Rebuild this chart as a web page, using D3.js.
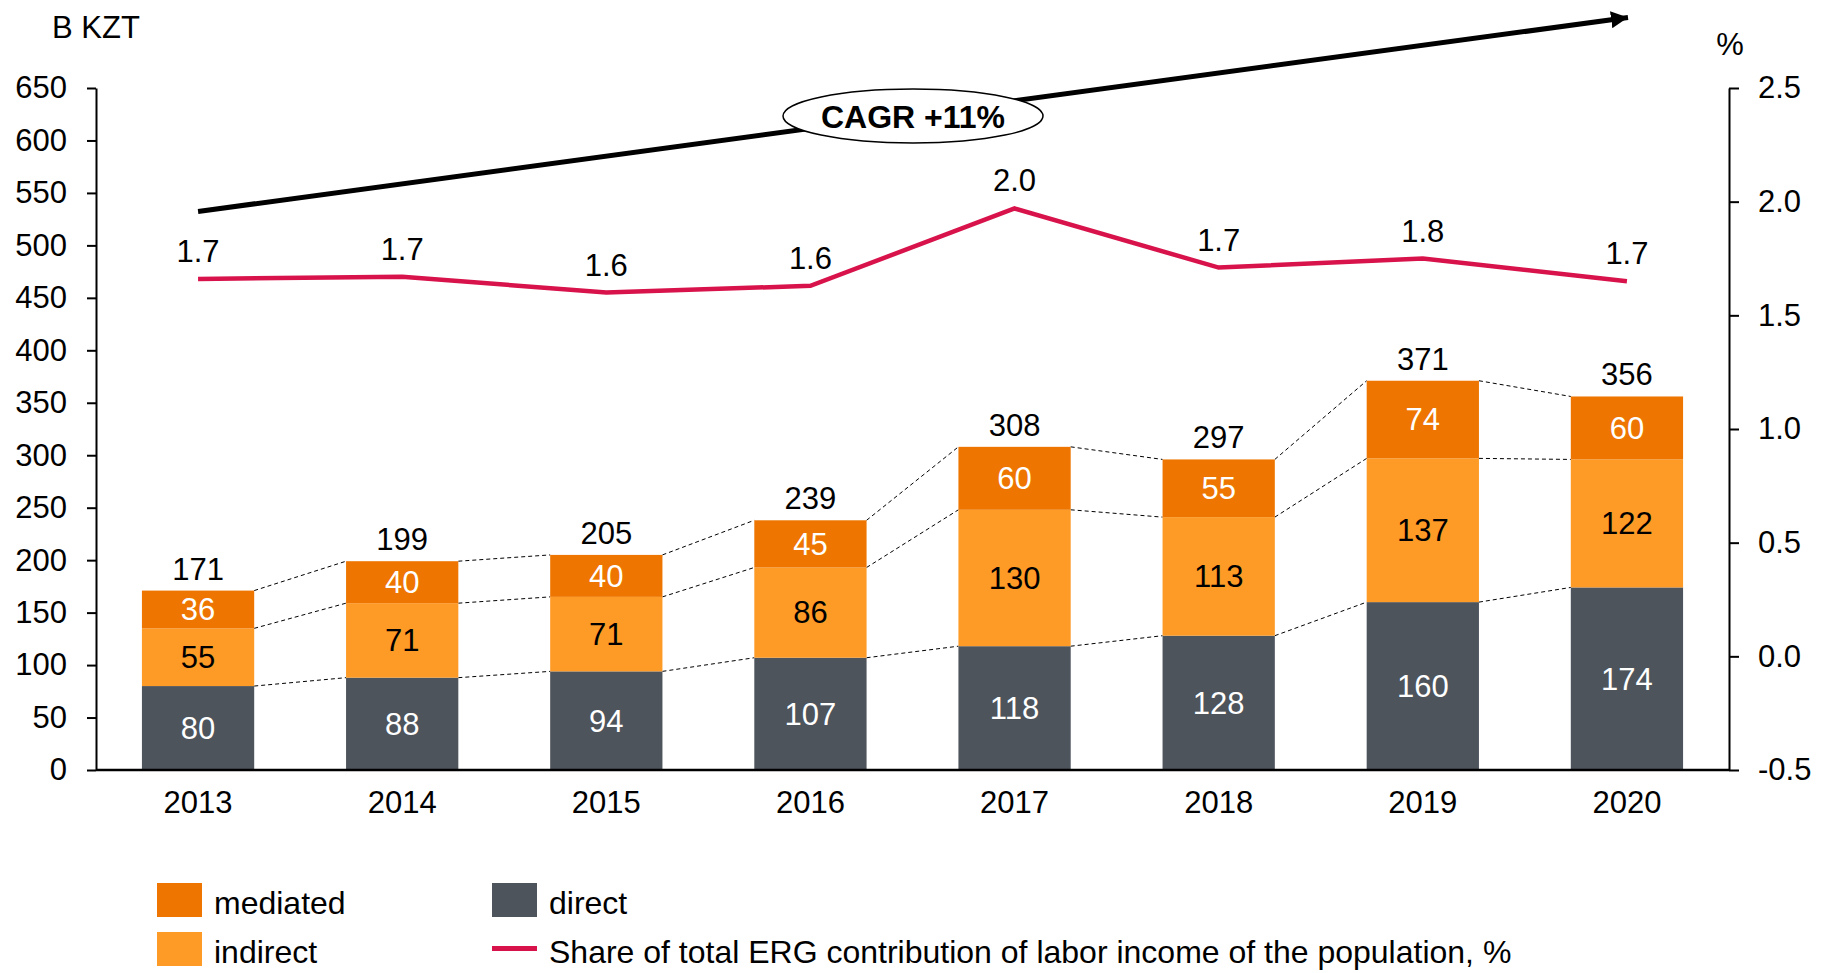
<!DOCTYPE html>
<html lang="en">
<head>
<meta charset="UTF-8">
<title>ERG contribution to labor income</title>
<script src="https://d3js.org/d3.v7.min.js"></script>
<style>
  body { margin: 0; background: #fff; }
  svg text { font-family: Arial, "Liberation Sans", sans-serif; }
</style>
</head>
<body>
<svg width="1832" height="973"></svg>
<script>
// data
const years = ["2013", "2014", "2015", "2016", "2017", "2018", "2019", "2020"];
const direct = [80, 88, 94, 107, 118, 128, 160, 174];
const indirect = [55, 71, 71, 86, 130, 113, 137, 122];
const mediated = [36, 40, 40, 45, 60, 55, 74, 60];
const totals = [171, 199, 205, 239, 308, 297, 371, 356];
const share = [1.66, 1.67, 1.60, 1.63, 1.97, 1.71, 1.75, 1.65];
const shareLabels = ["1.7", "1.7", "1.6", "1.6", "2.0", "1.7", "1.8", "1.7"];
const leftTicks = [0, 50, 100, 150, 200, 250, 300, 350, 400, 450, 500, 550, 600, 650];
const rightTicks = [-0.5, 0, 0.5, 1.0, 1.5, 2.0, 2.5];

const colors = { direct: "#4d545c", indirect: "#fe9a26", mediated: "#ee7600", share: "#d8124a" };
const FS = 31;

const svg = d3.select("svg");
const plot = { left: 96, right: 1729, top: 88, bottom: 770 };

const x = d3.scaleBand().domain(years).range([plot.left, plot.right]).paddingInner(0.45).paddingOuter(0.225);
const y = d3.scaleLinear().domain([0, 650]).range([plot.bottom, plot.top]);
const y2 = d3.scaleLinear().domain([-0.5, 2.5]).range([plot.bottom, plot.top]);

// stacked data
const rows = years.map((yr, i) => ({ year: yr, direct: direct[i], indirect: indirect[i], mediated: mediated[i] }));
const keys = ["direct", "indirect", "mediated"];
const stacked = d3.stack().keys(keys)(rows);

// dashed connectors between bars
keys.forEach((k, ki) => {
  const layer = stacked[ki];
  for (let i = 0; i < years.length - 1; i++) {
    svg.append("line")
      .attr("x1", x(years[i]) + x.bandwidth())
      .attr("y1", y(layer[i][1]))
      .attr("x2", x(years[i + 1]))
      .attr("y2", y(layer[i + 1][1]))
      .attr("stroke", "#000")
      .attr("stroke-width", 1)
      .attr("stroke-dasharray", "4,3");
  }
});

// bars
stacked.forEach((layer, ki) => {
  const k = keys[ki];
  svg.append("g").selectAll("rect")
    .data(layer)
    .enter()
    .append("rect")
    .attr("x", d => x(d.data.year))
    .attr("y", d => y(d[1]))
    .attr("width", x.bandwidth())
    .attr("height", d => y(d[0]) - y(d[1]))
    .attr("fill", colors[k]);

  svg.append("g").selectAll("text")
    .data(layer)
    .enter()
    .append("text")
    .attr("x", d => x(d.data.year) + x.bandwidth() / 2)
    .attr("y", d => (y(d[0]) + y(d[1])) / 2)
    .attr("dy", "0.35em")
    .attr("text-anchor", "middle")
    .style("font-size", FS + "px")
    .style("fill", k === "indirect" ? "#000" : "#fff")
    .text(d => d.data[k]);
});

// totals above bars
svg.append("g").selectAll("text")
  .data(stacked[2])
  .enter()
  .append("text")
  .attr("x", d => x(d.data.year) + x.bandwidth() / 2)
  .attr("y", d => y(d[1]) - 11)
  .attr("text-anchor", "middle")
  .style("font-size", FS + "px")
  .text((d, i) => totals[i]);

// left axis
const gl = svg.append("g")
  .attr("transform", `translate(${plot.left},0)`)
  .call(d3.axisLeft(y).tickValues(leftTicks).tickSize(9).tickSizeOuter(0).tickPadding(20));
gl.selectAll("text").style("font-size", FS + "px").style("fill", "#000");
gl.selectAll("path, line").style("stroke", "#000").style("stroke-width", 2);

// right axis (plain hyphen for negatives)
const fmt1 = v => d3.format(".1f")(v).replace("\u2212", "-");
const gr = svg.append("g")
  .attr("transform", `translate(${plot.right},0)`)
  .call(d3.axisRight(y2).tickValues(rightTicks).tickFormat(fmt1).tickSize(10).tickSizeOuter(0).tickPadding(19));
gr.selectAll("text").style("font-size", FS + "px").style("fill", "#000");
gr.selectAll("path, line").style("stroke", "#000").style("stroke-width", 2);

// x axis
const gx = svg.append("g")
  .attr("transform", `translate(0,${plot.bottom})`)
  .call(d3.axisBottom(x).tickSize(0).tickPadding(21));
gx.selectAll("text").style("font-size", FS + "px").style("fill", "#000");
gx.select("path").attr("d", `M${plot.left},0H${plot.right}`).style("stroke", "#000").style("stroke-width", 2.5);

// share line
const cx = d => x(d) + x.bandwidth() / 2;
svg.append("path")
  .datum(share)
  .attr("fill", "none")
  .attr("stroke", colors.share)
  .attr("stroke-width", 4.5)
  .attr("d", d3.line().x((d, i) => cx(years[i])).y(d => y2(d)));

svg.append("g").selectAll("text")
  .data(share)
  .enter()
  .append("text")
  .attr("x", (d, i) => cx(years[i]))
  .attr("y", d => y2(d) - 17)
  .attr("text-anchor", "middle")
  .style("font-size", FS + "px")
  .text((d, i) => shareLabels[i]);

// CAGR arrow
svg.append("defs").append("marker")
  .attr("id", "arrow")
  .attr("viewBox", "0 0 10 10")
  .attr("refX", 10).attr("refY", 5)
  .attr("markerWidth", 3.4).attr("markerHeight", 3.4)
  .attr("markerUnits", "strokeWidth")
  .attr("orient", "auto")
  .append("path").attr("d", "M0,0L10,5L0,10Z").attr("fill", "#000");

svg.append("line")
  .attr("x1", cx("2013")).attr("y1", 211.5)
  .attr("x2", 1628).attr("y2", 17.5)
  .attr("stroke", "#000")
  .attr("stroke-width", 5)
  .attr("marker-end", "url(#arrow)");

svg.append("ellipse")
  .attr("cx", 913).attr("cy", 116)
  .attr("rx", 130).attr("ry", 27)
  .attr("fill", "#fff")
  .attr("stroke", "#000")
  .attr("stroke-width", 1.5);

svg.append("text")
  .attr("x", 913).attr("y", 116)
  .attr("dy", "0.36em")
  .attr("text-anchor", "middle")
  .style("font-size", "32px")
  .style("font-weight", "bold")
  .text("CAGR +11%");

// units
svg.append("text").attr("x", 52).attr("y", 38).style("font-size", FS + "px").text("B KZT");
svg.append("text").attr("x", 1730).attr("y", 55).attr("text-anchor", "middle").style("font-size", FS + "px").text("%");

// legend
const legendItems = [
  { label: "mediated", type: "rect", color: colors.mediated, x: 157, y: 883 },
  { label: "indirect", type: "rect", color: colors.indirect, x: 157, y: 932 },
  { label: "direct", type: "rect", color: colors.direct, x: 492, y: 883 },
  { label: "Share of total ERG contribution of labor income of the population, %", type: "line", color: colors.share, x: 492, y: 932 }
];
const lg = svg.append("g").selectAll("g").data(legendItems).enter().append("g")
  .attr("transform", d => `translate(${d.x},${d.y})`);
lg.filter(d => d.type === "rect").append("rect")
  .attr("width", 45).attr("height", 34).attr("fill", d => d.color);
lg.filter(d => d.type === "line").append("rect")
  .attr("y", 14).attr("width", 45).attr("height", 5).attr("fill", d => d.color);
lg.append("text")
  .attr("x", 57).attr("y", 20).attr("dy", "0.35em")
  .style("font-size", "32px")
  .text(d => d.label);
</script>
</body>
</html>
